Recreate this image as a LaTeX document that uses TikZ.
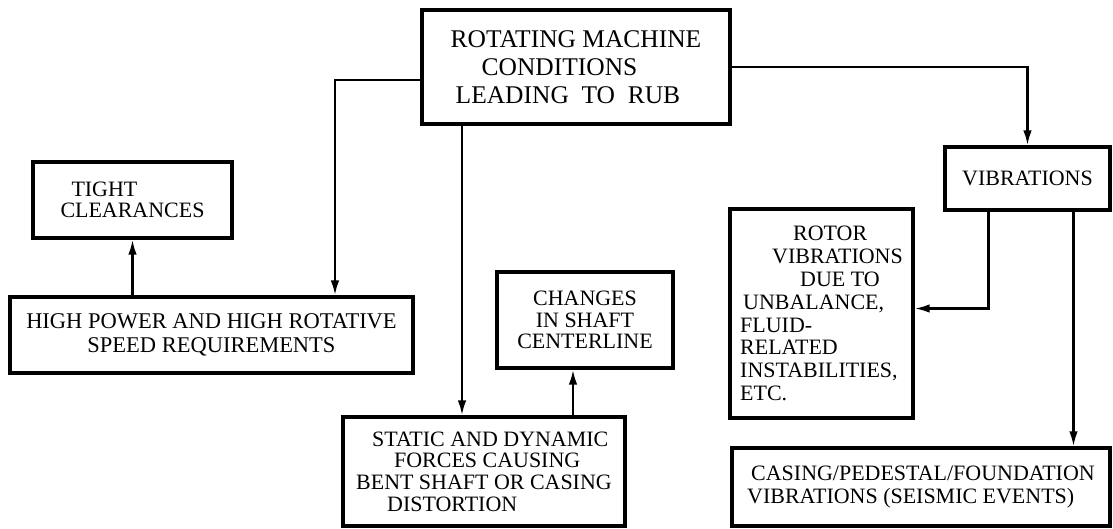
\documentclass[tikz,border=0pt]{standalone}
\usepackage{fontspec}
\setmainfont{Liberation Serif}
\usetikzlibrary{positioning,arrows.meta,calc}
\tikzset{
  block/.style={draw=black, line width=1.8pt, rectangle, inner sep=2pt,
    font=\fontsize{12.5}{13}\selectfont, align=left},
  flow/.style={draw=black, line width=1.4pt, -{Latex[length=3mm,width=1.7mm]}}
}

\begin{document}
\begin{tikzpicture}[x=0.02cm,y=-0.02cm]
  \useasboundingbox (0,0) rectangle (1113,528);
  \node[block, minimum width=6.16cm, minimum height=2.28cm, font=\fontsize{14.5}{16}\selectfont] (root) at (576,67)
    {ROTATING MACHINE\\\hspace*{0.62cm}CONDITIONS\\\hspace*{0.1cm}LEADING\ \ TO\ \ RUB};
  \node[block, minimum width=3.98cm, minimum height=1.52cm, font=\fontsize{12.5}{12}\selectfont] (tight) at (132.5,200)
    {\hspace*{0.22cm}TIGHT\\CLEARANCES};
  \node[block, minimum width=8.06cm, minimum height=1.52cm, align=center, font=\fontsize{12.8}{14}\selectfont] (power) at (211.5,335)
    {HIGH POWER AND HIGH ROTATIVE\\SPEED REQUIREMENTS};
  \node[block, minimum width=3.52cm, minimum height=1.92cm, align=center, font=\fontsize{12.5}{12.3}\selectfont] (changes) at (585,320)
    {CHANGES\\IN SHAFT\\CENTERLINE};
  \node[block, minimum width=5.64cm, minimum height=2.18cm, font=\fontsize{12.5}{12.3}\selectfont] (static) at (484,471.5)
    {\hspace*{0.32cm}STATIC AND DYNAMIC\\\hspace*{0.76cm}FORCES CAUSING\\BENT SHAFT OR CASING\\\hspace*{0.62cm}DISTORTION};
  \node[block, minimum width=3.3cm, minimum height=1.26cm] (vib) at (1027.5,178.5) {VIBRATIONS};
  \node[block, minimum width=3.66cm, minimum height=4.18cm] (rotor) at (821.5,313.5)
    {\hspace*{1.06cm}ROTOR\\\hspace*{0.64cm}VIBRATIONS\\\hspace*{1.2cm}DUE TO\\\hspace*{0.06cm}UNBALANCE,\\FLUID-\\RELATED\\INSTABILITIES,\\ETC.};
  \node[block, minimum width=7.56cm, minimum height=1.56cm, font=\fontsize{12.5}{13}\selectfont] (casing) at (921,487)
    {\hspace*{0.08cm}CASING/PEDESTAL/FOUNDATION\\VIBRATIONS (SEISMIC EVENTS)};
  % branches out of the top box
  \draw[flow] ([yshift=-0.26cm]root.west) -| ([xshift=2.47cm]power.north);
  \draw[flow] ([xshift=-2.28cm]root.south) -- ([xshift=-2.28cm]root.south |- static.north);
  \draw[flow] (root.east) -| (vib.north);
  % effects
  \draw[flow] (power.north -| tight.south) -- (tight.south);
  \draw[flow] ([xshift=-0.24cm]changes.south |- static.north) -- ([xshift=-0.24cm]changes.south);
  \draw[flow] ([xshift=-0.78cm]vib.south) |- ([yshift=0.1cm]rotor.east);
  \draw[flow] ([xshift=0.92cm]vib.south) -- ([xshift=0.92cm]vib.south |- casing.north);
\end{tikzpicture}
\end{document}
